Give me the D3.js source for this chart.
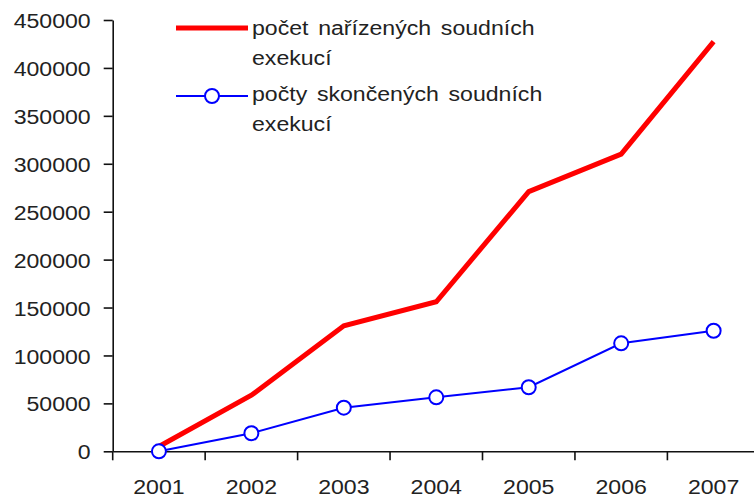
<!DOCTYPE html>
<html>
<head>
<meta charset="utf-8">
<script src="https://cdn.jsdelivr.net/npm/d3@7"></script>
<style>
  html, body { margin: 0; padding: 0; background: #fff; }
  svg { display: block; font-family: "Liberation Sans", Arial, sans-serif; }
  .lbl { font-size: 21px; fill: #222; }
</style>
</head>
<body>
<div id="chart"></div>
<script>
// data
var years = ["2001", "2002", "2003", "2004", "2005", "2006", "2007"];
var ordered = [5000, 58500, 131000, 156000, 271000, 310000, 427500];   // počet nařízených
var finished = [0, 18800, 45500, 56300, 66800, 112700, 125800];       // počty skončených
var yTicks = [0, 50000, 100000, 150000, 200000, 250000, 300000, 350000, 400000, 450000];
var legendLines = [
    ["počet nařízených soudních", "exekucí"],
    ["počty skončených soudních", "exekucí"]
];

var width = 754, height = 498;
var padLeft = 112.7, padTop = 20, axisY = 451.3;
var stretch = 1.1;

var svg = d3.select("#chart").append("svg")
    .attr("width", width)
    .attr("height", height);

var x = d3.scaleBand()
    .domain(years)
    .range([padLeft, padLeft + 7 * 92.45]);

var y = d3.scaleLinear()
    .domain([0, 450000])
    .range([axisY, padTop]);

/* y axis */
var yAxis = svg.append("g")
    .attr("transform", "translate(" + padLeft + ",0)")
    .call(d3.axisLeft(y).tickValues(yTicks).tickFormat(d3.format("d")).tickSize(9).tickSizeOuter(0).tickPadding(13));

yAxis.selectAll("text")
    .attr("class", "lbl")
    .attr("font-size", null).attr("font-family", null)
    .each(function () {
        var t = d3.select(this), ox = +t.attr("x");
        t.attr("x", 0).attr("dy", "0.36em")
         .attr("transform", "translate(" + ox + ",0) scale(" + stretch + ",1)");
    });

/* x axis, ticks on band edges */
var xAxis = svg.append("g")
    .attr("transform", "translate(0," + axisY + ")")
    .call(d3.axisBottom(x).tickSize(9).tickSizeOuter(0));

xAxis.selectAll(".tick line")
    .attr("x1", -x.bandwidth() / 2)
    .attr("x2", -x.bandwidth() / 2);

xAxis.selectAll("text")
    .attr("class", "lbl")
    .attr("font-size", null).attr("font-family", null)
    .attr("y", 0).attr("dy", 0)
    .attr("transform", "translate(0,42.5) scale(" + stretch + ",1)");

svg.selectAll(".domain, .tick line")
    .attr("stroke", "#111")
    .attr("stroke-width", 1.6);

/* series */
var line = d3.line()
    .x(function (d, i) { return x(years[i]) + x.bandwidth() / 2; })
    .y(function (d) { return y(d); });

svg.append("path")
    .datum(ordered)
    .attr("d", line)
    .attr("fill", "none")
    .attr("stroke", "#ff0000")
    .attr("stroke-width", 5);

svg.append("path")
    .datum(finished)
    .attr("d", line)
    .attr("fill", "none")
    .attr("stroke", "#0000ff")
    .attr("stroke-width", 2);

svg.selectAll("circle.pt")
    .data(finished)
    .enter()
    .append("circle")
    .attr("class", "pt")
    .attr("cx", function (d, i) { return x(years[i]) + x.bandwidth() / 2; })
    .attr("cy", function (d) { return y(d); })
    .attr("r", 7)
    .attr("fill", "#fff")
    .attr("stroke", "#0000ff")
    .attr("stroke-width", 2);

/* legend */
var leg = svg.append("g");

leg.append("line")
    .attr("x1", 176).attr("x2", 248).attr("y1", 28).attr("y2", 28)
    .attr("stroke", "#ff0000").attr("stroke-width", 5);

leg.append("line")
    .attr("x1", 176).attr("x2", 248).attr("y1", 96).attr("y2", 96)
    .attr("stroke", "#0000ff").attr("stroke-width", 2);

leg.append("circle")
    .attr("cx", 212).attr("cy", 96).attr("r", 7)
    .attr("fill", "#fff").attr("stroke", "#0000ff").attr("stroke-width", 2);

var baselines = [[35, 65], [101, 131]];
legendLines.forEach(function (rows, k) {
    rows.forEach(function (txt, j) {
        leg.append("text")
            .attr("class", "lbl")
            .attr("transform", "translate(252," + baselines[k][j] + ") scale(" + stretch + ",1)")
            .style("word-spacing", "3px")
            .text(txt);
    });
});
</script>
</body>
</html>
